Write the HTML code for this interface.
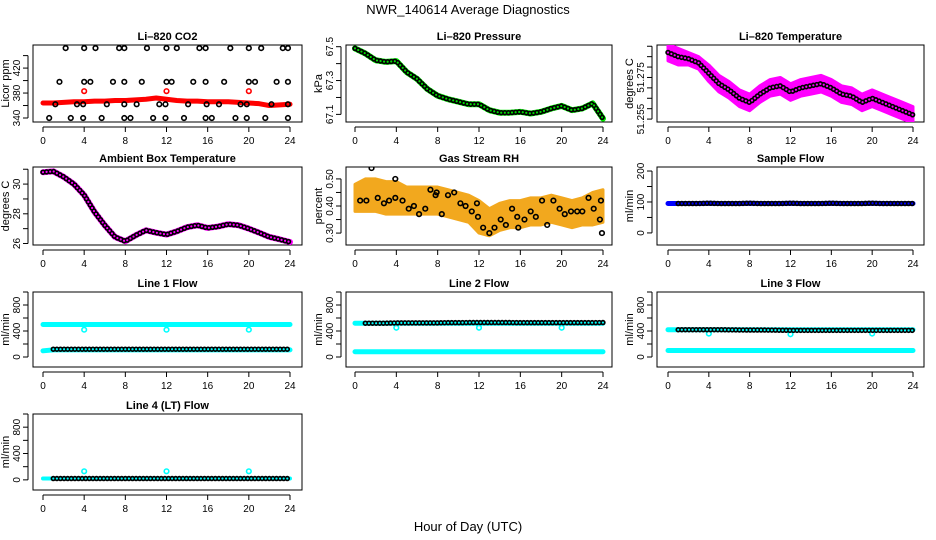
<!DOCTYPE html>
<html><head><meta charset="utf-8"><style>
body{margin:0;background:#fff}
svg{display:block;font-family:"Liberation Sans",sans-serif}
</style></head><body>
<svg id="c" width="936" height="540" viewBox="0 0 936 540">
<rect width="936" height="540" fill="#fff"/>
<text x="468" y="14" text-anchor="middle" font-size="13">NWR_140614  Average Diagnostics</text>
<text x="468" y="531" text-anchor="middle" font-size="13">Hour of Day (UTC)</text>
</svg>
<script>
const hours=[0,1,2,3,4,5,6,7,8,9,10,11,12,13,14,15,16,17,18,19,20,21,22,23,24];
const xTicks=[0,4,8,12,16,20,24];
// CO2
const co2Red=[364,364,365,366,366,367,367,368,368,369,370,372,370,368,367,367,366,366,366,365,364,363,360,361,362];
const co2RedPtsH=[4,12,20];
const co2RedPtsV=[383,383,383];
const co2BlackH=[2.2,4,5.1,7.4,7.9,10.1,12,13,15.2,15.8,18.2,20,21.2,23.3,23.8, 1.6,4,4.6,6.8,7.9,9.6,12,12.5,14.6,15.8,17.6,20,20.6,22.7,23.8, 1.2,3.3,3.9,6.2,7.9,9.1,11.3,11.9,14.1,15.9,17.1,19.2,19.8,22.2,23.8, 0.6,2.7,3.9,5.7,7.9,8.5,10.7,11.9,13.7,15.8,16.4,18.7,19.8,21.6,23.8];
const co2BlackV=[452,452,452,452,452,452,452,452,452,452,452,452,452,452,452, 398,398,398,398,398,398,398,398,398,398,398,398,398,398,398, 362,362,362,362,362,362,362,362,362,362,362,362,362,362,362, 340,340,340,340,340,340,340,340,340,340,340,340,340,340,340];
// Pressure
const presV=[67.49,67.46,67.42,67.41,67.415,67.35,67.31,67.25,67.21,67.19,67.175,67.16,67.16,67.125,67.11,67.11,67.115,67.105,67.115,67.135,67.15,67.125,67.135,67.165,67.075];
// Li-820 temperature
const tempV=[51.287,51.285,51.284,51.282,51.277,51.272,51.269,51.265,51.263,51.267,51.270,51.271,51.268,51.270,51.271,51.272,51.270,51.267,51.266,51.263,51.265,51.263,51.261,51.259,51.257];
const tempSpread=[0.004,0.004,0.003,0.003,0.004,0.004,0.004,0.004,0.004,0.004,0.004,0.004,0.004,0.004,0.004,0.004,0.004,0.004,0.004,0.004,0.004,0.004,0.004,0.004,0.004];
// Ambient
const ambV=[30.8,30.86,30.49,30.0,29.26,28.13,27.23,26.44,26.15,26.55,26.89,26.73,26.6,26.82,27.1,27.23,27.05,27.14,27.3,27.23,27.0,26.73,26.44,26.28,26.1];
// RH
const rhV=[0.43,0.44,0.44,0.43,0.43,0.42,0.42,0.42,0.42,0.41,0.40,0.39,0.36,0.34,0.36,0.37,0.37,0.38,0.38,0.39,0.38,0.37,0.38,0.39,0.40];
const rhSpread=[0.05,0.06,0.06,0.06,0.06,0.05,0.05,0.05,0.05,0.05,0.05,0.05,0.06,0.05,0.05,0.05,0.05,0.05,0.05,0.05,0.05,0.05,0.05,0.06,0.06];
const rhBlackH=[0.5,1.1,1.6,2.2,2.8,3.3,3.9,3.9,4.6,5.2,5.7,6.2,6.8,7.3,7.8,7.9,8.4,9.0,9.6,10.2,10.7,11.3,11.8,11.9,12.4,13.0,13.5,14.1,14.6,15.2,15.7,15.8,16.4,17.0,17.5,18.1,18.6,19.2,19.8,20.3,20.9,21.5,22.0,22.6,23.1,23.7,23.8,23.9];
const rhBlackV=[0.42,0.42,0.54,0.43,0.41,0.42,0.50,0.43,0.42,0.39,0.40,0.37,0.39,0.46,0.44,0.45,0.37,0.44,0.45,0.41,0.40,0.38,0.41,0.36,0.32,0.30,0.32,0.35,0.33,0.39,0.36,0.32,0.35,0.38,0.36,0.42,0.33,0.42,0.39,0.37,0.38,0.38,0.38,0.43,0.39,0.35,0.42,0.30];
// Sample flow
const sampleV=[95,95,95,95,96,95,95,95,96,95,95,95,96,95,95,95,96,95,95,95,96,95,95,95,95];
// Line flows
const dipH=[4,12,20];
const l1Cyan=[500,500,500,500,500,500,500,500,500,500,500,500,500,500,500,500,500,500,500,500,500,500,500,500,500];
const l1Dips=[420,420,420];
const l1CyanLow=[95,110,110,110,110,110,110,110,110,110,110,110,110,110,110,110,110,110,110,110,110,110,110,110,110];
const l1Black=[120,120,120,120,120,120,120,120,120,120,120,120,120,120,120,120,120,120,120,120,120,120,120,120,120];
const l2Cyan=[520,520,520,520,520,520,520,520,520,520,520,520,520,520,520,520,520,520,520,520,520,520,520,520,520];
const l2Dips=[450,450,450];
const l2CyanLow=[80,80,80,80,80,80,80,80,80,80,80,80,80,80,80,80,80,80,80,80,80,80,80,80,80];
const l2Black=[520,520,520,520,525,525,525,525,525,528,528,530,530,530,530,530,528,528,528,528,528,528,528,528,530];
const l3Cyan=[420,420,420,420,420,420,420,420,420,420,420,420,420,420,420,420,420,420,420,420,420,420,420,420,420];
const l3Dips=[360,350,360];
const l3CyanLow=[100,100,100,100,100,100,100,100,100,100,100,100,100,100,100,100,100,100,100,100,100,100,100,100,100];
const l3Black=[420,420,420,420,420,420,418,416,415,415,414,412,410,410,410,410,410,410,410,410,410,410,410,410,410];
const l4Cyan=[20,20,20,20,20,20,20,20,20,20,20,20,20,20,20,20,20,20,20,20,20,20,20,20,20];
const l4Spikes=[130,130,130];
const l4Black=[20,20,20,20,20,20,20,20,20,20,20,20,20,20,20,20,20,20,20,20,20,20,20,20,20];

const NS="http://www.w3.org/2000/svg";
const svg=document.getElementById('c');
function mk(tag,attrs,parent){const e=document.createElementNS(NS,tag);for(const k in attrs)e.setAttribute(k,attrs[k]);(parent||svg).appendChild(e);return e;}
const cols=[{x0:33,x1:302,h0:43,h1:290},{x0:346,x1:612,h0:355,h1:603},{x0:657,x1:924,h0:668,h1:913}];
const rows=[{y0:45,y1:122},{y0:167,y1:245},{y0:292,y1:367},{y0:414,y1:490}];

function panel(name,title,ci,ri,ymin,ymax,yticks,ylabels,ytitle){
  const c=cols[ci],r=rows[ri];
  const g=mk('g',{});
  
  
  const X=h=>c.h0+h/24*(c.h1-c.h0);
  const Y=v=>r.y1-(v-ymin)/(ymax-ymin)*(r.y1-r.y0);
  const t=mk('text',{x:(c.x0+c.x1)/2,y:r.y0-5,'text-anchor':'middle','font-size':'11','font-weight':'bold'},g);
  t.textContent=title;
  
  
  const box=mk('rect',{x:c.x0,y:r.y0,width:c.x1-c.x0,height:r.y1-r.y0,fill:'none',stroke:'#000','stroke-width':1},g);
  
  
  const ax=mk('g',{},g);
  
  
  mk('line',{x1:X(0),x2:X(24),y1:r.y1+5,y2:r.y1+5,stroke:'#000'},ax);
  xTicks.forEach(h=>{mk('line',{x1:X(h),x2:X(h),y1:r.y1+5,y2:r.y1+10,stroke:'#000'},ax);
    const tl=mk('text',{x:X(h),y:r.y1+22,'text-anchor':'middle','font-size':'10'},ax);tl.textContent=h;});
  const ay=mk('g',{},g);
  
  
  mk('line',{x1:c.x0-5,x2:c.x0-5,y1:Y(yticks[0]),y2:Y(yticks[yticks.length-1]),stroke:'#000'},ay);
  yticks.forEach(v=>mk('line',{x1:c.x0-10,x2:c.x0-5,y1:Y(v),y2:Y(v),stroke:'#000'},ay));
  ylabels.forEach(v=>{const tl=mk('text',{x:0,y:0,'text-anchor':'middle','font-size':'10',transform:`translate(${c.x0-13},${Y(v)}) rotate(-90)`},ay);tl.textContent=v;});
  const yt=mk('text',{x:0,y:0,'text-anchor':'middle','font-size':'11',transform:`translate(${c.x0-24},${(r.y0+r.y1)/2}) rotate(-90)`},g);
  yt.textContent=ytitle;
  
  
  const clip='clip'+ci+ri;
  const cp=mk('clipPath',{id:clip},g);mk('rect',{x:c.x0,y:r.y0,width:c.x1-c.x0,height:r.y1-r.y0},cp);
  const plot=mk('g',{'clip-path':`url(#${clip})`},g);
  return {X,Y,plot};
}
function line(p,xs,vs,color,w,name){
  const e=mk('polyline',{points:xs.map((h,i)=>p.X(h)+','+p.Y(vs[i])).join(' '),fill:'none',stroke:color,'stroke-width':w,'stroke-linejoin':'round','stroke-linecap':'round'},p.plot);
  
  
}
function chain(p,xs,vs,inner,name){
  const pts=xs.map((h,i)=>p.X(h)+','+p.Y(vs[i])).join(' ');
  const g=mk('g',{},p.plot);
  
  
  mk('polyline',{points:pts,fill:'none',stroke:'#000','stroke-width':5.5,'stroke-dasharray':'0 3.6','stroke-linecap':'round'},g);
  mk('polyline',{points:pts,fill:'none',stroke:inner,'stroke-width':2.2,'stroke-dasharray':'0 3.6','stroke-linecap':'round'},g);
}
function pts(p,xs,vs,color,name){
  const g=mk('g',{},p.plot);
  
  
  xs.forEach((h,i)=>mk('circle',{cx:p.X(h),cy:p.Y(vs[i]),r:2.3,fill:'none',stroke:color,'stroke-width':1.6},g));
}
function band(p,xs,vs,sp,color,name){
  const up=xs.map((h,i)=>p.X(h)+','+p.Y(vs[i]+sp[i]));
  const dn=xs.map((h,i)=>p.X(h)+','+p.Y(vs[i]-sp[i])).reverse();
  const e=mk('polygon',{points:up.concat(dn).join(' '),fill:color,stroke:color,'stroke-width':3,'stroke-linejoin':'round'},p.plot);
  
  
}

// CO2
let p=panel('co2-panel','Li\u2013820 CO2',0,0,333.6,457,[340,360,380,400,420,440],[340,380,420],'Licor ppm');
line(p,hours,co2Red,'#ff0000',5,'co2-red-series');
pts(p,co2RedPtsH,co2RedPtsV,'#ff0000','co2-red-points');
pts(p,co2BlackH,co2BlackV,'#000','co2-black-points');
// Pressure
p=panel('pressure-panel','Li\u2013820 Pressure',1,0,67.055,67.51,[67.1,67.2,67.3,67.4,67.5],['67.1','67.3','67.5'],'kPa');
line(p,hours,presV,'#00ee00',6,'pressure-green-series');
chain(p,hours,presV,'#00dd00','pressure-black-points');
// Temp
p=panel('licor-temp-panel','Li\u2013820 Temperature',2,0,51.2536,51.2906,[51.255,51.26,51.265,51.27,51.275,51.28,51.285,51.29],['51.255','51.275'],'degrees C');
band(p,hours,tempV,tempSpread,'#ff00ff','temp-magenta-band');
chain(p,hours,tempV,'#ff00ff','temp-black-points');
// Ambient
p=panel('ambient-temp-panel','Ambient Box Temperature',0,1,25.9,31.15,[26,27,28,29,30,31],[26,28,30],'degrees C');
line(p,hours,ambV,'#ff00ff',6,'ambient-magenta-series');
chain(p,hours,ambV,'#ff00ff','ambient-black-points');
// RH
p=panel('rh-panel','Gas Stream RH',1,1,0.256,0.544,[0.30,0.35,0.40,0.45,0.50],['0.30','0.40','0.50'],'percent');
band(p,hours,rhV,rhSpread,'#f2a81e','rh-orange-band');
pts(p,rhBlackH,rhBlackV,'#000','rh-black-points');
// Sample flow
p=panel('sample-flow-panel','Sample Flow',2,1,-39,213,[0,50,100,150,200],[0,100,200],'ml/min');
line(p,hours,sampleV,'#0000ff',5,'sample-blue-series');
chain(p,hours.slice(1),sampleV.slice(1),'#0000ff','sample-black-points');
// Line 1
p=panel('line1-flow-panel','Line 1 Flow',0,2,-154,1000,[0,200,400,600,800,1000],[0,400,800],'ml/min');
line(p,hours,l1Cyan,'#00ffff',5,'line1-cyan-upper');
pts(p,dipH,l1Dips,'#00ffff','line1-cyan-dips');
line(p,hours,l1CyanLow,'#00ffff',5,'line1-cyan-lower');
chain(p,hours.slice(1),l1Black.slice(1),'#00ffff','line1-black-points');
// Line 2
p=panel('line2-flow-panel','Line 2 Flow',1,2,-154,1000,[0,200,400,600,800,1000],[0,400,800],'ml/min');
line(p,hours,l2Cyan,'#00ffff',5,'line2-cyan-upper');
pts(p,dipH,l2Dips,'#00ffff','line2-cyan-dips');
line(p,hours,l2CyanLow,'#00ffff',5,'line2-cyan-lower');
chain(p,hours.slice(1),l2Black.slice(1),'#00ffff','line2-black-points');
// Line 3
p=panel('line3-flow-panel','Line 3 Flow',2,2,-154,1000,[0,200,400,600,800,1000],[0,400,800],'ml/min');
line(p,hours,l3Cyan,'#00ffff',5,'line3-cyan-upper');
pts(p,dipH,l3Dips,'#00ffff','line3-cyan-dips');
line(p,hours,l3CyanLow,'#00ffff',5,'line3-cyan-lower');
chain(p,hours.slice(1),l3Black.slice(1),'#00ffff','line3-black-points');
// Line 4
p=panel('line4-flow-panel','Line 4 (LT) Flow',0,3,-154,1000,[0,200,400,600,800,1000],[0,400,800],'ml/min');
line(p,hours,l4Cyan,'#00ffff',4,'line4-cyan-series');
pts(p,dipH,l4Spikes,'#00ffff','line4-cyan-spikes');
chain(p,hours.slice(1),l4Black.slice(1),'#00ffff','line4-black-points');
</script>
</body></html>
